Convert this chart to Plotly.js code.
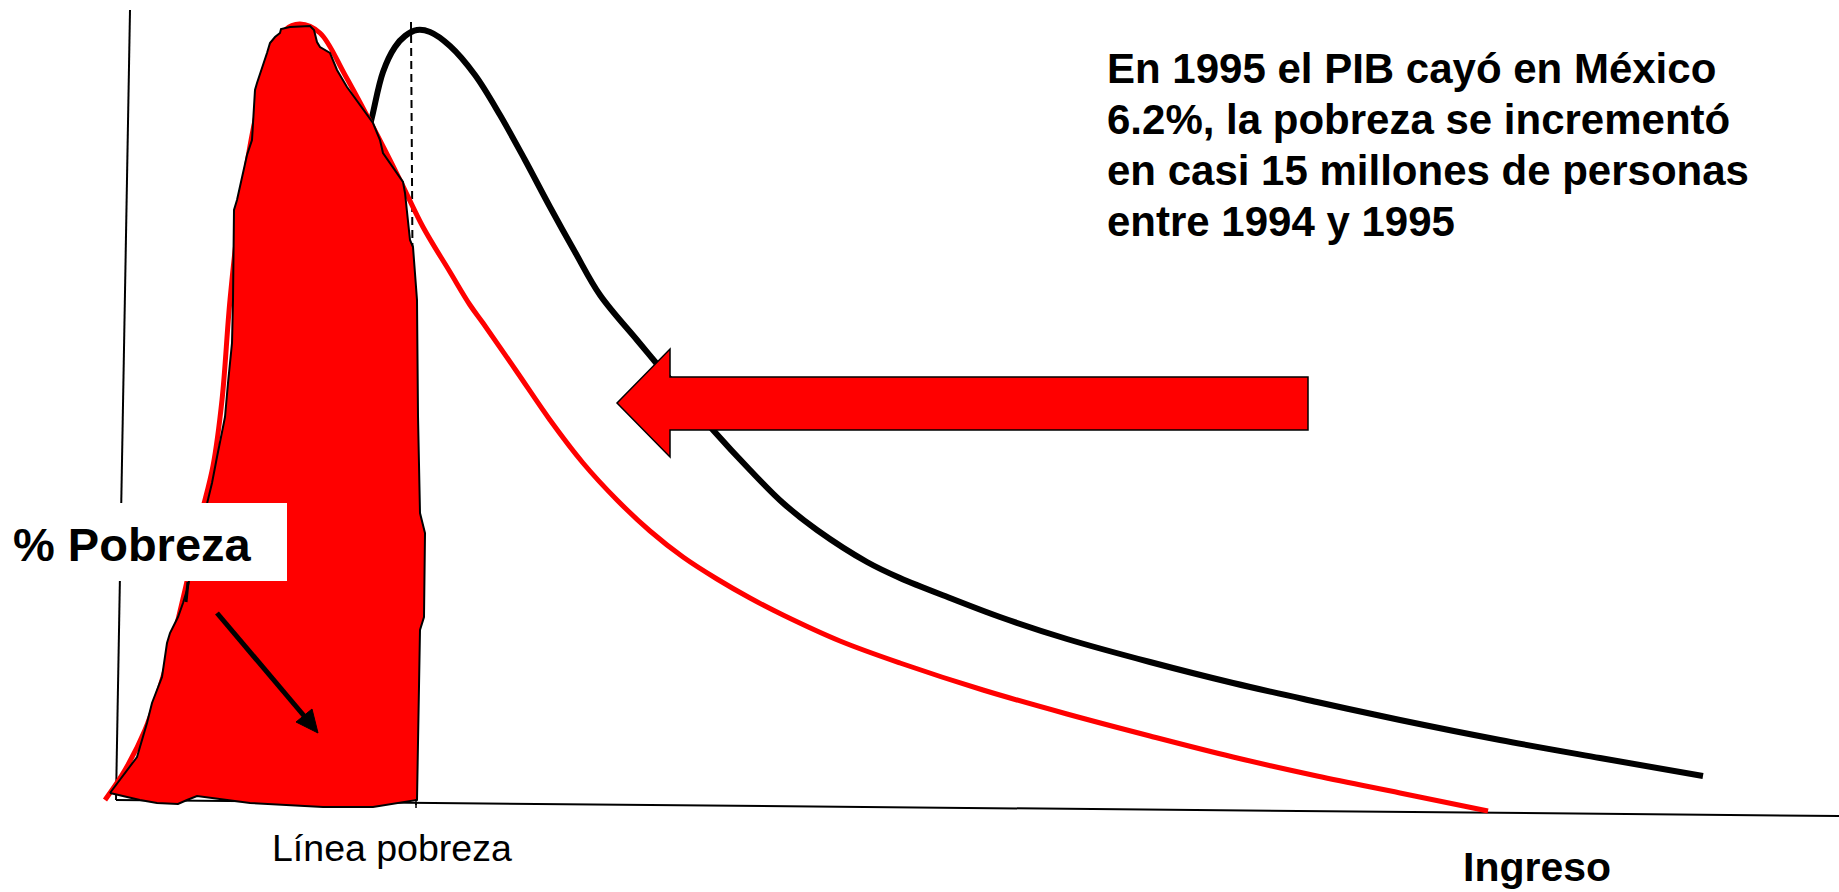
<!DOCTYPE html>
<html>
<head>
<meta charset="utf-8">
<script src="https://cdn.plot.ly/plotly-3.0.1.min.js"></script>
<style>
  html, body { margin: 0; padding: 0; background: #ffffff; }
  #chart { width: 1839px; height: 892px; }
</style>
</head>
<body>
<div id="chart"></div>
<script>
// Distribución del ingreso 1994 (curva negra)
const ingreso1994 = [355, 364, 372, 383, 395, 405, 417, 430, 450, 475, 500, 525, 550, 575, 600, 637, 657, 685, 713, 750, 783, 817, 867, 900, 950, 1000, 1067, 1150, 1233, 1317, 1400, 1500, 1600, 1703];
const densidad1994 = [692, 742, 775, 820, 845, 856, 862, 860, 846, 817, 777, 732, 685, 640, 597, 552, 528, 495, 462, 422, 389, 362, 330, 314, 294, 275, 253, 230, 209, 190, 172, 152, 134, 116];

// Distribución del ingreso 1995 (curva roja)
const ingreso1995 = [105, 125, 145, 165, 185, 200, 213, 222, 230, 240, 255, 270, 285, 300, 320, 345, 373, 400, 423, 450, 470, 483, 517, 550, 583, 617, 650, 683, 717, 750, 783, 840, 900, 983, 1067, 1150, 1233, 1317, 1400, 1488];
const densidad1995 = [92, 122, 162, 222, 302, 372, 426, 492, 592, 682, 772, 832, 862, 868, 859, 817, 765, 712, 665, 620, 587, 569, 520, 472, 429, 392, 361, 335, 313, 294, 277, 251, 229, 202, 178, 156, 135, 116, 99, 81];

// Área de pobreza (mancha roja bajo la línea de pobreza)
const pobrezaX = [110, 137, 147, 152, 162, 167, 170, 178, 183, 187, 197, 207, 212, 217, 222, 225, 228, 232, 233, 234, 237, 245, 247, 252, 255, 257, 265, 267, 270, 275, 280, 281, 290, 310, 314, 317, 320, 330, 337, 347, 373, 380, 383, 403, 405, 410, 413, 417, 418, 420, 425, 424, 420, 417, 373, 323, 250, 197, 187, 178, 157, 140, 110];
const pobrezaY = [99, 135, 169, 189, 215, 249, 259, 275, 289, 302, 347, 389, 409, 435, 462, 475, 509, 549, 592, 682, 692, 729, 737, 752, 802, 809, 832, 839, 849, 855, 859, 863, 865, 866, 862, 850, 845, 839, 822, 805, 769, 752, 739, 710, 699, 652, 645, 592, 476, 379, 359, 275, 262, 92, 85, 85, 89, 96, 92, 88, 89, 92, 99];

// Textos
const lineasNota = ["En 1995 el PIB cayó en México", "6.2%, la pobreza se incrementó", "en casi 15 millones de personas", "entre 1994 y 1995"];
const textoPobreza = "% Pobreza";
const textoLinea = "Línea pobreza";
const textoIngreso = "Ingreso";

const FONT = "Liberation Sans, Arial, sans-serif";

const traces = [
  {
    x: ingreso1994, y: densidad1994, type: "scatter", mode: "lines",
    line: { color: "#000000", width: 6, shape: "spline", smoothing: 1 },
    hoverinfo: "skip"
  },
  {
    x: ingreso1995, y: densidad1995, type: "scatter", mode: "lines",
    line: { color: "#ff0000", width: 5, shape: "spline", smoothing: 1 },
    hoverinfo: "skip"
  },
  {
    x: pobrezaX, y: pobrezaY, type: "scatter", mode: "lines",
    fill: "toself", fillcolor: "#ff0000",
    line: { color: "#000000", width: 2 },
    hoverinfo: "skip"
  }
];

const notaAnnotations = lineasNota.map(function (t, i) {
  return { xref: "x", yref: "y", x: 1105, y: 823.5 - 51 * i, xanchor: "left", yanchor: "middle", align: "left",
    text: "<b>" + t + "</b>", showarrow: false,
    font: { family: FONT, size: 42, color: "#000000" } };
});

const layout = {
  width: 1839, height: 892,
  margin: { l: 0, r: 0, t: 0, b: 0, pad: 0 },
  paper_bgcolor: "#ffffff", plot_bgcolor: "#ffffff",
  showlegend: false, hovermode: false,
  xaxis: { range: [0, 1839], visible: false, fixedrange: true },
  yaxis: { range: [0, 892], visible: false, fixedrange: true },
  shapes: [
    // ejes
    { type: "line", xref: "x", yref: "y", x0: 130, y0: 882, x1: 116, y1: 92, layer: "below",
      line: { color: "#000000", width: 2 } },
    { type: "line", xref: "x", yref: "y", x0: 116, y0: 92, x1: 1839, y1: 76, layer: "below",
      line: { color: "#000000", width: 2 } },
    // línea de pobreza (punteada)
    { type: "line", xref: "x", yref: "y", x0: 411, y0: 870, x1: 416, y1: 87, layer: "below",
      line: { color: "#000000", width: 2, dash: "8px,5px" } },
    { type: "line", xref: "x", yref: "y", x0: 416, y0: 93, x1: 416, y1: 84, layer: "above",
      line: { color: "#000000", width: 1.5 } },
    // flecha grande
    { type: "path", xref: "x", yref: "y", layer: "above",
      path: "M617,489 L670,543 L670,515 L1308,515 L1308,462 L670,462 L670,435 Z",
      fillcolor: "#ff0000", line: { color: "#000000", width: 1.5 } },
    // caja de etiqueta
    { type: "rect", xref: "x", yref: "y", x0: 0, x1: 287, y0: 311, y1: 389, layer: "above",
      fillcolor: "#ffffff", line: { width: 0 } },
    // marca bajo la caja
    { type: "line", xref: "x", yref: "y", x0: 188, y0: 310, x1: 186, y1: 290, layer: "above",
      line: { color: "#000000", width: 3 } },
    // flecha pequeña
    { type: "line", xref: "x", yref: "y", x0: 217, y0: 279, x1: 305, y1: 175, layer: "above",
      line: { color: "#000000", width: 5 } },
    { type: "path", xref: "x", yref: "y", layer: "above",
      path: "M318,159 L296,170 L312,183 Z",
      fillcolor: "#000000", line: { color: "#000000", width: 1 } }
  ],
  annotations: notaAnnotations.concat([
    { xref: "x", yref: "y", x: 11, y: 348, xanchor: "left", yanchor: "middle", align: "left",
      text: "<b>" + textoPobreza + "</b>", showarrow: false,
      font: { family: FONT, size: 47, color: "#000000" } },
    { xref: "x", yref: "y", x: 270, y: 44, xanchor: "left", yanchor: "middle", align: "left",
      text: textoLinea, showarrow: false,
      font: { family: FONT, size: 37.5, color: "#000000" } },
    { xref: "x", yref: "y", x: 1462, y: 25, xanchor: "left", yanchor: "middle", align: "left",
      text: "<b>" + textoIngreso + "</b>", showarrow: false, borderpad: 0,
      font: { family: FONT, size: 41, color: "#000000" } }
  ])
};

Plotly.newPlot("chart", traces, layout, { displayModeBar: false, staticPlot: true });
</script>
</body>
</html>
